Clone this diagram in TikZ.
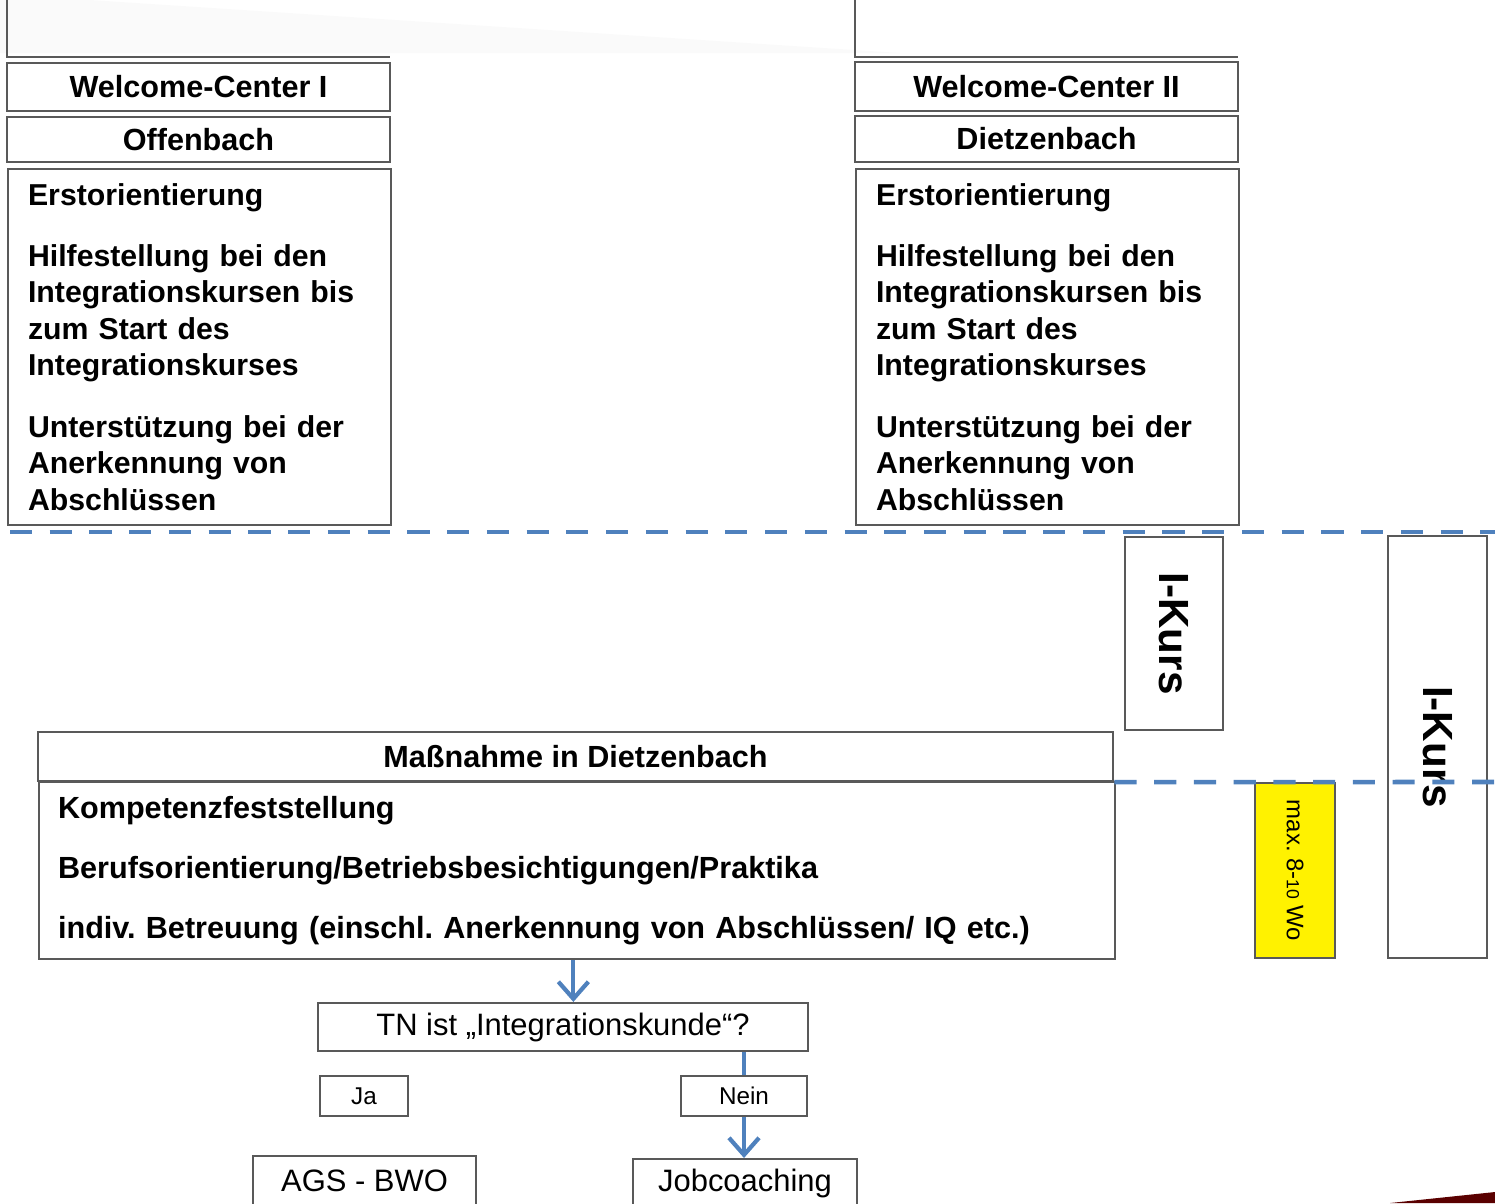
\documentclass[tikz,border=0pt]{standalone}
\usepackage{fontspec}
\setmainfont{Liberation Sans}
\usetikzlibrary{arrows.meta,positioning}
\definecolor{pptblue}{HTML}{4F81BD}
\definecolor{boxgray}{HTML}{595959}
\definecolor{darkwine}{HTML}{5A0000}
\frenchspacing

\begin{document}
\begin{tikzpicture}[x=0.01cm, y=-0.01cm,
    headbox/.style={rectangle, draw=boxgray, line width=0.6pt, minimum width=3.83cm, inner sep=0pt, font=\fontsize{8.7}{10.4}\selectfont\bfseries},
    listbox/.style={rectangle, draw=boxgray, line width=0.6pt, anchor=north west, text width=3.43cm, inner xsep=0.2cm, inner ysep=0pt, minimum height=3.56cm, align=left, font=\fontsize{8.6}{10.4}\selectfont\bfseries},
    kursbox/.style={rectangle, draw=boxgray, line width=0.6pt, rotate=-90, inner sep=0pt, font=\fontsize{12}{14}\selectfont\bfseries},
    flowbox/.style={rectangle, draw=boxgray, line width=0.6pt, inner sep=0pt, font=\fontsize{8.8}{10.5}\selectfont},
    divider/.style={pptblue, line width=1.3pt, dash pattern=on 6.3pt off 5pt},
    flowarrow/.style={pptblue, line width=1.2pt, -{Straight Barb[length=0.17cm, width=0.3cm, line width=1.2pt]}}
]
    \clip (0,0) rectangle (1495,1203);

    % Hintergrund
    \fill[black!2] (0,0) -- (90,0) -- (900,53) -- (0,53) -- cycle;
    \fill[darkwine] (1390,1203) -- (1495,1192) -- (1495,1203) -- cycle;

    % Welcome-Center I
    \draw[boxgray, line width=0.6pt] (7,0) |- (390,57);
    \node[headbox, minimum height=0.48cm] (wc1) at (198.5,87) {Welcome-Center I};
    \node[headbox, minimum height=0.45cm] (ort1) at (198.5,139.5) {Offenbach};
    \node[listbox] (info1) at (7,168) {Erstorientierung\\[0.24cm]
        Hilfestellung bei den\\ Integrationskursen bis\\ zum Start des\\ Integrationskurses\\[0.25cm]
        Unterstützung bei der\\ Anerkennung von\\ Abschlüssen};

    % Welcome-Center II
    \draw[boxgray, line width=0.6pt] (855,0) |- (1238,57);
    \node[headbox, minimum height=0.49cm] (wc2) at (1046.5,86.5) {Welcome-Center II};
    \node[headbox, minimum height=0.46cm] (ort2) at (1046.5,139) {Dietzenbach};
    \node[listbox] (info2) at (855,168) {Erstorientierung\\[0.24cm]
        Hilfestellung bei den\\ Integrationskursen bis\\ zum Start des\\ Integrationskurses\\[0.25cm]
        Unterstützung bei der\\ Anerkennung von\\ Abschlüssen};

    % I-Kurse
    \node[kursbox, minimum width=1.93cm, minimum height=0.98cm] (kurs1) at (1174,633.5) {I-Kurs};
    \node[kursbox, minimum width=4.22cm, minimum height=0.99cm] (kurs2) at (1437.5,747) {I-Kurs};
    \node[kursbox, fill=yellow, minimum width=1.75cm, minimum height=0.80cm, font=\fontsize{6.8}{8}\selectfont] (dauer) at (1295,870.5) {max. 8-{\fontsize{5}{6}\selectfont 10} Wo};

    % Massnahme
    \node[flowbox, minimum width=10.75cm, minimum height=0.49cm, font=\fontsize{8.7}{10.4}\selectfont\bfseries] (mhead) at (575.5,756.5) {Maßnahme in Dietzenbach};
    \node[flowbox, anchor=north west, minimum height=1.77cm, text width=10.37cm, inner xsep=0.19cm, align=left, font=\fontsize{8.7}{10.4}\selectfont\bfseries] (mbody) at (38,781) {Kompetenzfeststellung\\[0.23cm]
        Berufsorientierung/Betriebsbesichtigungen/Praktika\\[0.23cm]
        indiv. Betreuung (einschl. Anerkennung von Abschlüssen/ IQ etc.)};

    % Entscheidung
    \node[flowbox, minimum width=4.90cm, minimum height=0.48cm] (frage) at (563,1027) {TN ist „Integrationskunde“?};
    \node[flowbox, minimum width=0.88cm, minimum height=0.40cm, font=\fontsize{6.9}{8}\selectfont] (ja) at (364,1096) {Ja};
    \node[flowbox, minimum width=1.26cm, minimum height=0.40cm, font=\fontsize{6.9}{8}\selectfont] (nein) at (744,1096) {Nein};
    \node[flowbox, anchor=north, minimum width=2.23cm, minimum height=0.50cm] (ags) at (364.5,1155) {AGS - BWO};
    \node[flowbox, anchor=north, minimum width=2.24cm, minimum height=0.48cm] (coach) at (745,1158) {Jobcoaching};

    % Pfeile
    \draw[flowarrow] ([xshift=-0.035cm]mbody.south) -- ([xshift=-0.035cm]mbody.south |- frage.north);
    \draw[pptblue, line width=1.2pt] (nein.north |- frage.south) -- (nein.north);
    \draw[flowarrow] (nein.south) -- (nein.south |- coach.north);

    % Trennlinien
    \draw[divider] (10,532) -- (1495,532);
    \draw[divider] (mhead.south east) -- (1495,782);

\end{tikzpicture}
\end{document}
